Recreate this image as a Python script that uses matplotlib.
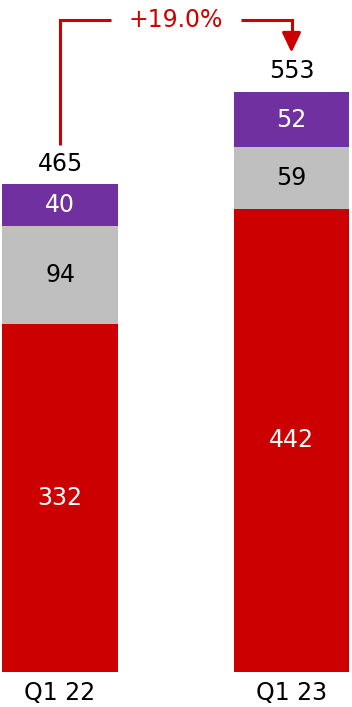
import matplotlib.pyplot as plt
import numpy as np

quarters = ['Q1 22', 'Q1 23']
base = [332, 442]      # bottom segment (red)
middle = [94, 59]      # middle segment (grey)
top = [40, 52]         # top segment (purple)
totals = [465, 553]
growth_label = '+19.0%'

red = '#CC0000'
grey = '#BFBFBF'
purple = '#7030A0'

if __name__ == '__main__':
    plt.rcParams['font.family'] = ['DejaVu Sans']
    fig = plt.figure(figsize=(3.52, 7.07), dpi=100)
    ax = fig.add_axes([0, 0, 1, 1])
    ax.set_xlim(-0.2592, 1.2613)
    ax.set_ylim(-33.4, 641.2)
    ax.axis('off')

    fs = 17
    x = np.arange(len(quarters))
    w = 0.501
    segs = [(base, red, 'white'), (middle, grey, 'black'), (top, purple, 'white')]
    bottom = np.zeros(len(x))
    for vals, col, tcol in segs:
        vals = np.array(vals)
        ax.bar(x, vals, w, bottom=bottom, color=col, linewidth=0)
        for xi, b, v in zip(x, bottom, vals):
            ax.text(xi, b + v / 2, str(v), ha='center', va='center',
                    color=tcol, fontsize=fs)
        bottom += vals

    for xi, t in zip(x, totals):
        ax.text(xi, t + 20, str(t), ha='center', va='center', fontsize=fs)
    for xi, q in zip(x, quarters):
        ax.text(xi, -20, q, ha='center', va='center', fontsize=fs)

    # growth connector between the two totals
    level = 622
    lw = 2.2
    tip = totals[1] + 38
    head = 16
    ax.plot([x[0], x[0], 0.22], [totals[0] + 38, level, level],
            color=red, lw=lw, solid_joinstyle='miter', solid_capstyle='butt')
    ax.plot([0.78, x[1], x[1]], [level, level, tip + head], color=red, lw=lw,
            solid_joinstyle='miter', solid_capstyle='butt')
    ax.annotate('', xy=(x[1], tip), xytext=(x[1], tip + head + 1),
                arrowprops=dict(arrowstyle='-|>,head_length=0.8,head_width=0.38',
                                color=red, lw=lw, mutation_scale=15,
                                shrinkA=0, shrinkB=0))
    ax.text(0.5, level, growth_label, ha='center', va='center',
            color=red, fontsize=fs)

    plt.savefig('out.png', dpi=100)
